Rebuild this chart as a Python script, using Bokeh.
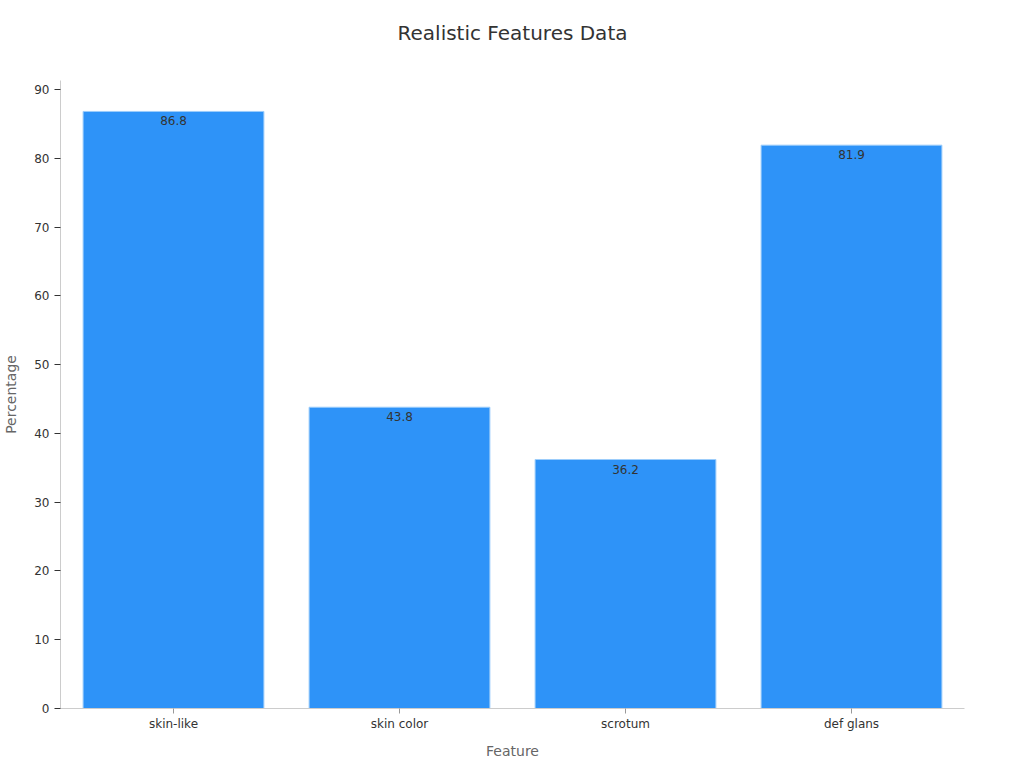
from bokeh.plotting import figure
from bokeh.models import ColumnDataSource
from bokeh.core.properties import value
from bokeh.embed import file_html
from bokeh.resources import INLINE

features = ["skin-like", "skin color", "scrotum", "def glans"]
percentages = [86.8, 43.8, 36.2, 81.9]
labels = ["86.8", "43.8", "36.2", "81.9"]

source = ColumnDataSource(data=dict(feature=features, pct=percentages, label=labels))

FONT = "DejaVu Sans"

p = figure(x_range=features, y_range=(0, 91.3),
           frame_width=904, frame_height=628,
           min_border_left=59, min_border_right=45,
           min_border_top=80, min_border_bottom=52,
           title="Realistic Features Data",
           output_backend="svg", toolbar_location=None)

p.vbar(x="feature", top="pct", width=0.8, source=source,
       fill_color="#2e93f8", line_color="#9ccdfb", line_width=1)

p.text(x="feature", y="pct", text="label", source=source,
       text_align="center", text_baseline="top", y_offset=5,
       text_font=value(FONT), text_font_size="12px", text_color="#333333")

p.title.align = "center"
p.title.text_font = FONT
p.title.text_font_size = "20px"
p.title.text_font_style = "normal"
p.title.text_color = "#333333"
p.title.standoff = 10
p.title.padding = dict(left=0, right=0, top=0, bottom=31)

p.xgrid.visible = False
p.ygrid.visible = False
p.outline_line_color = None

for ax in (p.xaxis, p.yaxis):
    ax.axis_line_color = "#cccccc"
    ax.major_label_text_font = FONT
    ax.major_label_text_font_size = "12px"
    ax.major_label_text_color = "#333333"
    ax.axis_label_text_font = FONT
    ax.axis_label_text_font_size = "14px"
    ax.axis_label_text_font_style = "normal"
    ax.axis_label_text_color = "#666666"
    ax.minor_tick_line_color = None

p.xaxis.axis_label = "Feature"
p.yaxis.axis_label = "Percentage"
p.yaxis.axis_label_standoff = 12
p.xaxis.major_label_standoff = 3
p.xaxis.axis_label_standoff = 9
p.yaxis.ticker = [0, 10, 20, 30, 40, 50, 60, 70, 80, 90]
p.yaxis.major_tick_in = 0
p.yaxis.major_tick_out = 6
p.yaxis.major_tick_line_color = "#333333"
p.xaxis.major_tick_in = 0
p.xaxis.major_tick_out = 5
p.xaxis.major_tick_line_color = "#999999"

open("out.html", "w").write(file_html(p, INLINE))
